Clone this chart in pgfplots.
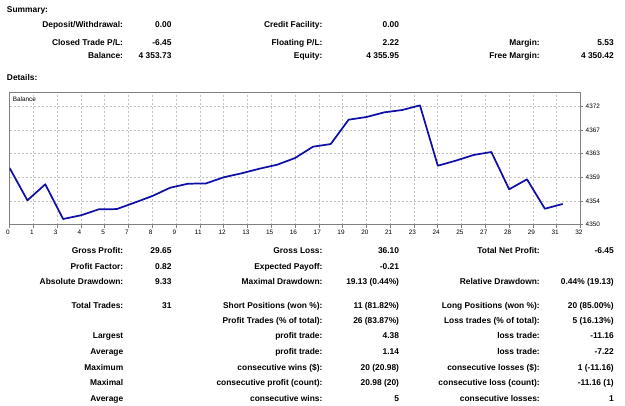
\documentclass[border=0pt]{standalone}
\usepackage{fontspec}
\setmainfont{Liberation Sans}
\usepackage{pgfplots}
\pgfplotsset{compat=1.18}
\definecolor{bal}{RGB}{16,16,168}
\definecolor{framec}{RGB}{128,128,128}
\definecolor{gridc}{RGB}{195,195,195}
\newcommand\tf{\fontsize{6.3}{7}\selectfont\bfseries}
\newcommand\R[3]{\node[anchor=base east,inner sep=0pt,font=\tf] at (#1,#2+3) {#3};}
\newcommand\Lb[3]{\node[anchor=base west,inner sep=0pt,font=\tf] at (#1,#2+3) {#3};}
\begin{document}
\begin{tikzpicture}
\begin{axis}[
  at={(7.2pt,-168.525pt)}, anchor=south west,
  scale only axis, width=428.2pt, height=99pt,
  xmin=0, xmax=32, ymin=4350, ymax=4374.53,
  axis line style={draw=framec, line width=1pt},
  grid=major,
  major grid style={draw=gridc, line width=0.5pt, dash pattern=on 1.5pt off 1.5pt},
  tick align=outside, major tick length=2.2pt,
  tick style={draw=framec, line width=0.5pt},
  xtick pos=bottom, ytick pos=right, yticklabel pos=right,
  xtick={0,1.3333,2.6667,4,5.3333,6.6667,8,9.3333,10.6667,12,13.3333,14.6667,16,17.3333,18.6667,20,21.3333,22.6667,24,25.3333,26.6667,28,29.3333,30.6667,32},
  xticklabels={0,1,3,4,5,7,8,9,11,12,13,15,16,17,19,20,21,23,24,25,27,28,29,31,32},
  ytick={4350,4354.4,4358.8,4363.2,4367.6,4372},
  yticklabels={4350,4354,4359,4363,4367,4372},
  /pgf/number format/assume math mode=true,
  ticklabel style={font=\fontsize{4.8}{5}\selectfont, inner sep=0pt},
  xticklabel style={anchor=north, yshift=-1.6pt, xshift=-1.2pt},
  yticklabel style={anchor=west, xshift=1.5pt},
]
\addplot[bal, line width=1.3pt, line join=round] coordinates {
(0,4360.54) (1,4354.53) (2,4357.51) (3,4351.06) (4,4351.75) (5,4352.86)
(6,4352.90) (7,4354.09) (8,4355.33) (9,4356.87) (10,4357.62) (11,4357.66)
(12,4358.81) (13,4359.55) (14,4360.40) (15,4361.15) (16,4362.39) (17,4364.49)
(18,4364.99) (19,4369.51) (20,4370.01) (21,4370.88) (22,4371.31) (23,4372.18)
(24,4360.96) (25,4361.89) (26,4362.95) (27,4363.51) (28,4356.58) (29,4358.44)
(30,4352.97) (31,4353.85)
};
\end{axis}
\begin{scope}[x=0.75pt,y=-0.75pt]
\path[use as bounding box] (0,0) rectangle (625,406);
\node[anchor=west,inner sep=0pt,font=\fontsize{4.8}{5}\selectfont] at (12.5,99) {Balance};
% Summary
\Lb{6.7}{10}{Summary:}
\R{123.3}{25}{Deposit/Withdrawal:} \R{171.7}{25}{0.00}
\R{322.7}{25}{Credit Facility:} \R{399.3}{25}{0.00}
\R{123.3}{42.5}{Closed Trade P/L:} \R{171.7}{42.5}{-6.45}
\R{322.7}{42.5}{Floating P/L:} \R{399.3}{42.5}{2.22}
\R{540}{42.5}{Margin:} \R{614}{42.5}{5.53}
\R{123.3}{56}{Balance:} \R{171.7}{56}{4 353.73}
\R{322.7}{56}{Equity:} \R{399.3}{56}{4 355.95}
\R{540}{56}{Free Margin:} \R{614}{56}{4 350.42}
\Lb{6.7}{78}{Details:}
% Details
\R{123.5}{250.7}{Gross Profit:} \R{171.7}{250.7}{29.65}
\R{322.7}{250.7}{Gross Loss:} \R{399.3}{250.7}{36.10}
\R{540}{250.7}{Total Net Profit:} \R{614}{250.7}{-6.45}
\R{123.5}{266}{Profit Factor:} \R{171.7}{266}{0.82}
\R{322.7}{266}{Expected Payoff:} \R{399.3}{266}{-0.21}
\R{123.5}{281.7}{Absolute Drawdown:} \R{171.7}{281.7}{9.33}
\R{322.7}{281.7}{Maximal Drawdown:} \R{399.3}{281.7}{19.13 (0.44\%)}
\R{540}{281.7}{Relative Drawdown:} \R{614}{281.7}{0.44\% (19.13)}
\R{123.5}{305}{Total Trades:} \R{171.7}{305}{31}
\R{322.7}{305}{Short Positions (won \%):} \R{399.3}{305}{11 (81.82\%)}
\R{540}{305}{Long Positions (won \%):} \R{614}{305}{20 (85.00\%)}
\R{322.7}{320}{Profit Trades (\% of total):} \R{399.3}{320}{26 (83.87\%)}
\R{540}{320}{Loss trades (\% of total):} \R{614}{320}{5 (16.13\%)}
\R{123.5}{335.7}{Largest} \R{322.7}{335.7}{profit trade:} \R{399.3}{335.7}{4.38}
\R{540}{335.7}{loss trade:} \R{614}{335.7}{-11.16}
\R{123.5}{351.3}{Average} \R{322.7}{351.3}{profit trade:} \R{399.3}{351.3}{1.14}
\R{540}{351.3}{loss trade:} \R{614}{351.3}{-7.22}
\R{123.5}{367}{Maximum} \R{322.7}{367}{consecutive wins (\$):} \R{399.3}{367}{20 (20.98)}
\R{540}{367}{consecutive losses (\$):} \R{614}{367}{1 (-11.16)}
\R{123.5}{382.3}{Maximal} \R{322.7}{382.3}{consecutive profit (count):} \R{399.3}{382.3}{20.98 (20)}
\R{540}{382.3}{consecutive loss (count):} \R{614}{382.3}{-11.16 (1)}
\R{123.5}{398}{Average} \R{322.7}{398}{consecutive wins:} \R{399.3}{398}{5}
\R{540}{398}{consecutive losses:} \R{614}{398}{1}
\end{scope}
\end{tikzpicture}
\end{document}
